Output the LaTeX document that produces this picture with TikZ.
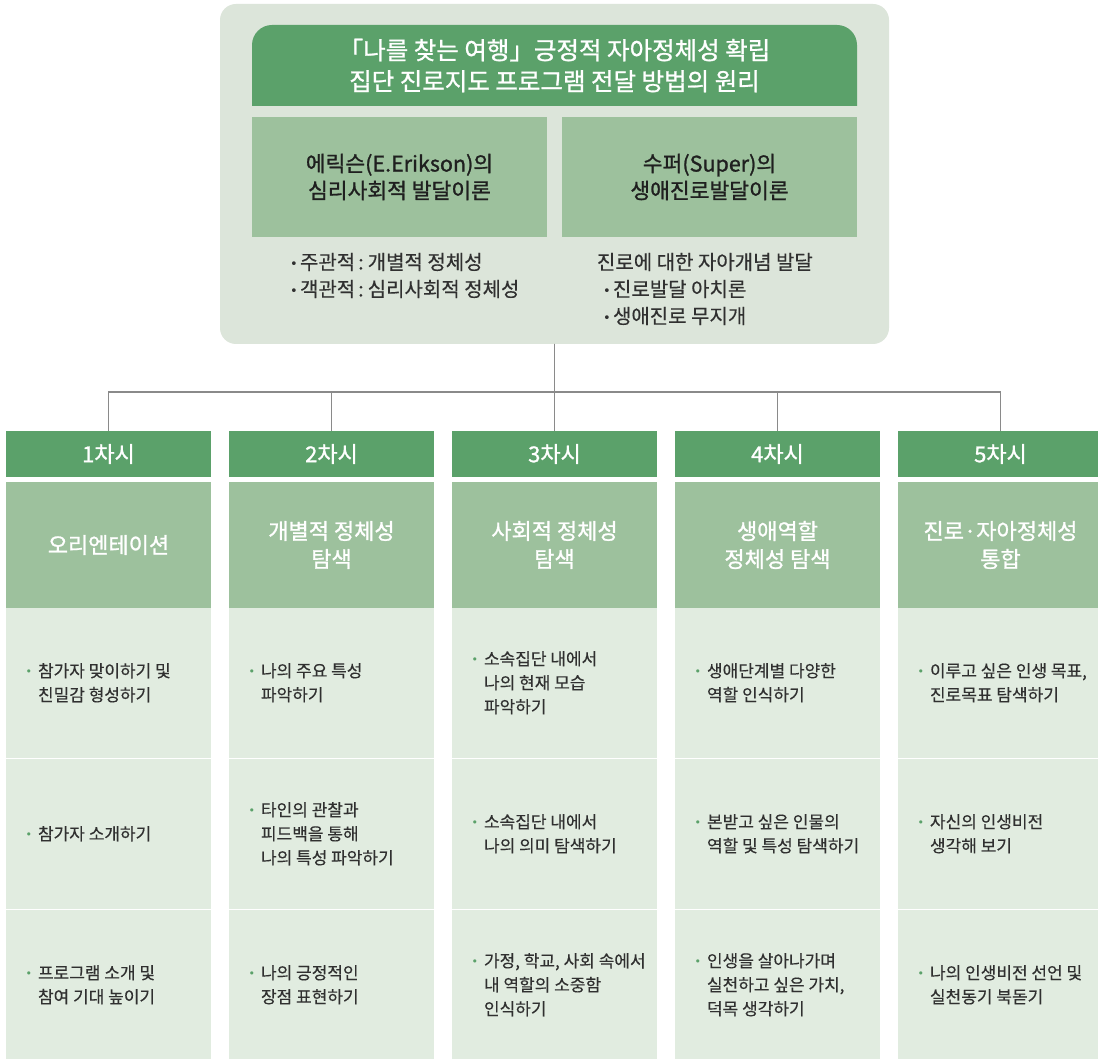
\documentclass[tikz,border=0pt]{standalone}
\usepackage{fontspec}
\setmainfont{Noto Sans CJK KR}[FakeBold=0.3]
\newfontfamily\medfont{Noto Sans CJK KR}[FakeBold=1.1]
\newfontfamily\symfont{DejaVu Sans}
\usetikzlibrary{positioning,calc,backgrounds}

\definecolor{dkgreen}{HTML}{5BA16A}
\definecolor{mdgreen}{HTML}{9DC19D}
\definecolor{ltgreen}{HTML}{E1ECE0}
\definecolor{pnlgreen}{HTML}{DCE5DA}
\definecolor{txtgray}{HTML}{303030}
\definecolor{linegray}{HTML}{8A8A8A}

\newcommand{\bul}{\makebox[12.5pt][l]{\raisebox{2pt}{\textcolor{dkgreen}{\symfont\fontsize{11pt}{11pt}\selectfont •}}}}
\newcommand{\brk}{\\\hspace*{12.5pt}}
\newcommand{\dbul}{\makebox[10pt][l]{\raisebox{1pt}{\symfont\fontsize{13pt}{13pt}\selectfont •}}}
\newcommand{\cln}{\hspace{3pt}:\hspace{4pt}}

\begin{document}
\begin{tikzpicture}[x=1pt,y=-1pt,
    every node/.style={inner sep=0pt,outer sep=0pt},
    panel/.style={fill=pnlgreen,rounded corners=16pt,minimum width=669pt,minimum height=340pt},
    titlebox/.style={text=white,font=\medfont\fontsize{24.5pt}{31pt}\selectfont,align=center,minimum width=605pt,minimum height=81pt},
    theory/.style={fill=mdgreen,text=black!88,font=\medfont\fontsize{21.5pt}{27pt}\selectfont,align=center,minimum width=295pt,minimum height=120pt},
    note/.style={anchor=west,text=txtgray,font=\fontsize{20pt}{27pt}\selectfont,align=left},
    session/.style={fill=dkgreen,text=white,font=\medfont\fontsize{22pt}{24pt}\selectfont,minimum width=205pt,minimum height=46pt},
    topic/.style={fill=mdgreen,text=white,font=\medfont\fontsize{22pt}{28pt}\selectfont,align=center,minimum width=205pt,minimum height=126pt},
    cell/.style={fill=ltgreen,minimum width=205pt,minimum height=149.5pt},
    celltext/.style={anchor=west,text=txtgray,font=\fontsize{17pt}{24pt}\selectfont,align=left},
    conn/.style={draw=linegray,line width=1.2pt}]

    \useasboundingbox (0,0) rectangle (1098,1059);

    % principles panel
    \node[titlebox] at (554.5,65.5) (title) {「나를 찾는 여행」긍정적 자아정체성 확립\\집단 진로지도 프로그램 전달 방법의 원리};
    \node[theory] at (399.5,177) (erik) {에릭슨(E.Erikson)의\\심리사회적 발달이론};
    \node[theory] at (709.5,177) (super) {수퍼(Super)의\\생애진로발달이론};
    \node[note] at (290,275.5) (eriknote) {\dbul 주관적\cln{}개별적 정체성\\\dbul 객관적\cln{}심리사회적 정체성};
    \node[note] at (597,289) (supernote) {진로에 대한 자아개념 발달\\\hspace*{6pt}\dbul 진로발달 아치론\\\hspace*{6pt}\dbul 생애진로 무지개};

    \begin{scope}[on background layer]
    \fill[white] (0,0) rectangle (1098,1059);
    \node[panel] at (554.5,174) (panel) {};
    \fill[dkgreen] (title.south west) [rounded corners=20pt] -- (title.north west) -- (title.north east) [sharp corners] -- (title.south east) -- cycle;
    \end{scope}

    \foreach \i/\topic in {1/오리엔테이션, 2/{개별적 정체성\\탐색}, 3/{사회적 정체성\\탐색}, 4/{생애역할\\정체성 탐색}, 5/{진로·자아정체성\\통합}}
    {%
    % session header
    \node[session] at (108.5+223*\i-223,454) (s\i) {\i{}차시};
    % topic box
    \node[topic] at (108.5+223*\i-223,545) (t\i) {\topic};
    }%

    % activity cells
    \foreach \i/\ra/\rb/\rc in {%
        1/{참가자 맞이하기 및\brk 친밀감 형성하기}/{참가자 소개하기}/{프로그램 소개 및\brk 참여 기대 높이기},
        2/{나의 주요 특성\brk 파악하기}/{타인의 관찰과\brk 피드백을 통해\brk 나의 특성 파악하기}/{나의 긍정적인\brk 장점 표현하기},
        3/{소속집단 내에서\brk 나의 현재 모습\brk 파악하기}/{소속집단 내에서\brk 나의 의미 탐색하기}/{가정, 학교, 사회 속에서\brk 내 역할의 소중함\brk 인식하기},
        4/{생애단계별 다양한\brk 역할 인식하기}/{본받고 싶은 인물의\brk 역할 및 특성 탐색하기}/{인생을 살아나가며\brk 실천하고 싶은 가치,\brk 덕목 생각하기},
        5/{이루고 싶은 인생 목표,\brk 진로목표 탐색하기}/{자신의 인생비전\brk 생각해 보기}/{나의 인생비전 선언 및\brk 실천동기 북돋기}}
    {%
    \foreach \j/\txt in {1/\ra,2/\rb,3/\rc}
    {%
    \node[cell] at (108.5+223*\i-223,531.75+151*\j) (c\i\j) {};
    \node[celltext] at ([xshift=19.5pt]c\i\j.west) (x\i\j) {\bul\txt};
    }%
    }%

    % connections
    \foreach \i in {1,...,5}
        \draw[conn] (panel.south) -- ++(0,48) -| (s\i.north);
\end{tikzpicture}
\end{document}
